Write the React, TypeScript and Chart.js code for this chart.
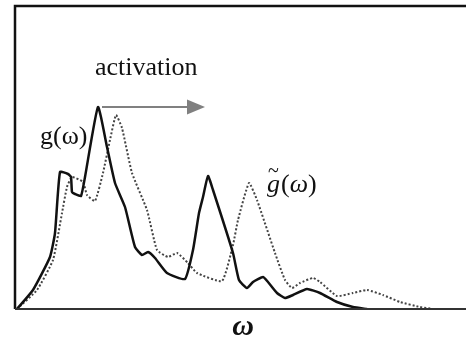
import React, { useEffect, useRef } from "react";
import { Chart, registerables } from "chart.js";

Chart.register(...registerables);

// frequency positions (arbitrary units) and spectral densities
const gX = [2, 18, 35, 40, 45, 53, 56, 57, 60, 66, 70, 83, 92, 100, 110, 120, 127, 133, 140, 152, 170, 178, 184, 188, 193, 198, 218, 224, 232, 238, 248, 253, 262, 270, 278, 292, 305, 322, 338, 352];
const gY = [0, 19, 52, 76, 137, 135, 132, 117, 115, 113, 132, 202, 162, 126, 102, 62, 54, 57, 51, 36, 30, 59, 96, 112, 133, 119, 56, 29, 21, 27, 32, 27, 16, 11, 14, 20, 16, 7, 2, 0];

const gtX = [2, 22, 38, 47, 52, 57, 68, 72, 80, 88, 95, 101, 107, 117, 132, 142, 153, 162, 173, 182, 207, 218, 223, 234, 242, 260, 270, 277, 285, 298, 305, 322, 338, 352, 368, 385, 405, 418];
const gtY = [0, 19, 49, 96, 122, 132, 127, 114, 108, 136, 169, 194, 181, 136, 99, 59, 52, 56, 46, 36, 28, 64, 89, 126, 109, 56, 29, 21, 26, 31, 27, 13, 16, 19, 14, 7, 2, 0];

const labelActivation = "activation";
const labelG = "g(ω)";
const labelGt = "g(ω)";
const labelAxis = "ω";

const toPts = (xs: number[], ys: number[]) => xs.map((x, i) => ({ x, y: ys[i] }));

const decor = {
  id: "decor",
  afterDraw(chart: any) {
    const { ctx, chartArea } = chart;
    const { left, top, right, bottom } = chartArea;
    ctx.save();
    // frame
    ctx.strokeStyle = "#111";
    ctx.lineWidth = 2.5;
    ctx.beginPath();
    ctx.moveTo(right + 2, top);
    ctx.lineTo(left, top);
    ctx.lineTo(left, bottom);
    ctx.stroke();
    ctx.strokeStyle = "#333";
    ctx.lineWidth = 2;
    ctx.beginPath();
    ctx.moveTo(left, bottom);
    ctx.lineTo(right + 2, bottom);
    ctx.stroke();

    const xs = chart.scales.x;
    const ys = chart.scales.y;
    // arrow
    const ax0 = xs.getPixelForValue(87);
    const ax1 = xs.getPixelForValue(190);
    const ay = ys.getPixelForValue(202);
    ctx.strokeStyle = "#808080";
    ctx.fillStyle = "#808080";
    ctx.lineWidth = 2;
    ctx.beginPath();
    ctx.moveTo(ax0, ay);
    ctx.lineTo(ax1 - 16, ay);
    ctx.stroke();
    ctx.beginPath();
    ctx.moveTo(ax1, ay);
    ctx.lineTo(ax1 - 18, ay - 7.5);
    ctx.lineTo(ax1 - 18, ay + 7.5);
    ctx.closePath();
    ctx.fill();

    // texts
    ctx.fillStyle = "#111";
    ctx.textBaseline = "alphabetic";
    ctx.textAlign = "left";
    ctx.font = '26px "Liberation Serif", "DejaVu Serif", serif';
    ctx.fillText(labelActivation, 95, 75);
    ctx.fillText(labelG, 40, 144);
    // g tilde
    ctx.font = 'italic 26px "Liberation Serif", "DejaVu Serif", serif';
    const gw = ctx.measureText("g").width;
    ctx.fillText("g", 267, 192);
    ctx.font = '26px "Liberation Serif", "DejaVu Serif", serif';
    ctx.fillText("(", 267 + gw + 1, 192);
    const pw = ctx.measureText("(").width;
    ctx.font = 'italic 26px "Liberation Serif", "DejaVu Serif", serif';
    ctx.fillText("ω", 267 + gw + 1 + pw, 192);
    const ow = ctx.measureText("ω").width;
    ctx.font = '26px "Liberation Serif", "DejaVu Serif", serif';
    ctx.fillText(")", 267 + gw + 1 + pw + ow, 192);
    ctx.font = '20px "Liberation Serif", "DejaVu Serif", serif';
    ctx.fillText("~", 268, 177);
    // axis label
    ctx.font = 'italic bold 30px "Liberation Serif", "DejaVu Serif", serif';
    ctx.textAlign = "center";
    ctx.fillText(labelAxis, 243, 335);
    ctx.restore();
  },
};

export default function App() {
  const ref = useRef<HTMLCanvasElement>(null);
  useEffect(() => {
    document.body.style.margin = "0";
    const chart = new Chart(ref.current!, {
      type: "line",
      data: {
        datasets: [
          {
            label: labelG,
            data: toPts(gX, gY),
            borderColor: "#111",
            borderWidth: 2.5,
            pointRadius: 0,
            tension: 0.15,
            fill: false,
          },
          {
            label: labelGt,
            data: toPts(gtX, gtY),
            borderColor: "#444",
            borderWidth: 2,
            borderDash: [2, 2],
            pointRadius: 0,
            tension: 0.15,
            fill: false,
          },
        ],
      },
      options: {
        animation: false,
        responsive: false,
        layout: { padding: { left: 15, top: 6, right: 0, bottom: 28 } },
        plugins: { legend: { display: false }, tooltip: { enabled: false } },
        scales: {
          x: { type: "linear", min: 0, max: 451, display: false },
          y: { type: "linear", min: 0, max: 303, display: false },
        },
      },
      plugins: [decor],
    });
    return () => chart.destroy();
  }, []);
  return (
    <div style={{ width: 466, height: 337, background: "#fff" }}>
      <canvas ref={ref} width={466} height={337} />
    </div>
  );
}
